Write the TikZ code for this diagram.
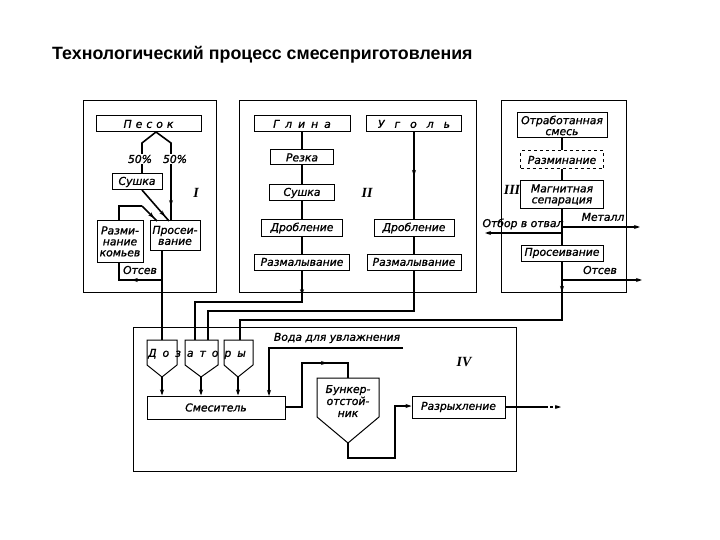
\documentclass[tikz,border=0pt]{standalone}
\usepackage{fontspec}
\setmainfont{Liberation Sans}
\newfontfamily\diagfont{DejaVu Sans}[FakeBold=1.2]
\newfontfamily\romfont{Liberation Serif}
\usetikzlibrary{arrows.meta,decorations.markings}
\newcommand{\ls}{\hspace{4pt}}
\newcommand{\lsw}{\hspace{6pt}}
\begin{document}
\begin{tikzpicture}[x=1pt,y=-1pt,
  panel/.style={draw, line width=0.9pt},
  box/.style={draw, line width=1pt, inner sep=1pt, align=center,
    font=\diagfont\itshape\fontsize{10.8}{11}\selectfont},
  lbl/.style={font=\diagfont\itshape\fontsize{10.8}{11.5}\selectfont, inner sep=1pt},
  flow/.style={line width=1.6pt},
  tip/.style={-{Stealth[length=6pt,width=4pt]}},
  midarrow/.style={postaction={decorate},decoration={markings,
    mark=at position #1 with {\arrow{Stealth[length=6pt,width=4pt]}}}},
  rom/.style={font=\romfont\itshape\bfseries\fontsize{14}{14}\selectfont}
]
\useasboundingbox (0,0) rectangle (720,540);
\fill[white] (0,0) rectangle (720,540);

% title
\node[anchor=west, inner sep=0, font=\bfseries\fontsize{17.8}{20}\selectfont] (title) at (52,55)
  {Технологический процесс смесеприготовления};

% ---------------- panels
\draw[panel] (83,100) rectangle (216,292);
\draw[panel] (239,100) rectangle (476,292);
\draw[panel] (501,100) rectangle (626,292);
\draw[panel] (133,327) rectangle (516,471);

% ---------------- panel I
\node[box, minimum width=105pt, minimum height=16pt] (pesok) at (148.5,124) {П\ls е\ls с\ls о\ls к};
\node[box, minimum width=50pt, minimum height=16pt] (sush1) at (137,182) {Сушка};
\node[box, minimum width=46pt, minimum height=41pt] (razm1) at (120,241.5) {Разми-\\нание\\комьев};
\node[box, minimum width=50pt, minimum height=29pt] (pros1) at (175,235.5) {Просеи-\\вание};
\node[rom] (r1) at (196,193) {I};

\coordinate (fork) at (156,132);
\draw[flow] (fork) -- (142,143) -- (sush1.north -| 142,0);
\draw[flow, midarrow=0.85] (fork) -- (171,143) -- (pros1.north -| 171,0);
\draw[flow, midarrow=0.85] (142,190) -- (169,221);
\draw[flow] (razm1.north -| 119,0) -- (119,206) -- (142,206);
\draw[flow, midarrow=0.8] (142,206) -- (157,221);
\node[lbl, fill=white] (p50a) at (140,159) {50\%};
\node[lbl, fill=white] (p50b) at (175,159) {50\%};
\coordinate (ots1) at (162,280);
\draw[flow, midarrow=0.5] (ots1) -- (119,280) -- (razm1.south -| 119,0);
\node[lbl] (lots1) at (140,270) {Отсев};

% ---------------- panel II
\node[box, minimum width=96pt, minimum height=16pt] (glina) at (302,124) {Г\lsw л\lsw и\lsw н\lsw а};
\node[box, minimum width=95pt, minimum height=16pt] (ugol) at (414,124) {У\lsw\ls г\lsw\ls о\lsw\ls л\lsw\ls ь};
\node[box, minimum width=63pt, minimum height=15pt] (rezka) at (302,157.5) {Резка};
\node[box, minimum width=65pt, minimum height=16pt] (sush2) at (302,193) {Сушка};
\node[box, minimum width=81pt, minimum height=16pt] (drob1) at (302,228) {Дробление};
\node[box, minimum width=95pt, minimum height=16pt] (razmal1) at (302,262) {Размалывание};
\node[box, minimum width=80pt, minimum height=16pt] (drob2) at (414,228) {Дробление};
\node[box, minimum width=94pt, minimum height=16pt] (razmal2) at (414,262) {Размалывание};
\node[rom] (r2) at (367,193) {II};

\draw[flow] (glina) -- (rezka);
\draw[flow] (rezka) -- (sush2);
\draw[flow] (sush2) -- (drob1);
\draw[flow] (drob1) -- (razmal1);
\draw[flow, midarrow=0.5] (ugol) -- (drob2);
\draw[flow] (drob2) -- (razmal2);

% ---------------- panel III
\node[box, minimum width=90pt, minimum height=25pt] (otrab) at (562,125.5) {Отработанная\\смесь};
\node[box, dashed, minimum width=83pt, minimum height=18pt] (razm3) at (562,160) {Разминание};
\node[box, minimum width=83pt, minimum height=28pt] (magn) at (562,195) {Магнитная\\сепарация};
\node[box, minimum width=82pt, minimum height=16pt] (pros3) at (562,253) {Просеивание};
\node[rom] (r3) at (512,190) {III};

\draw[flow] (otrab) -- (razm3);
\draw[flow] (razm3) -- (magn);
\draw[flow] (magn) -- (pros3);
\coordinate (met0) at (562,227);
\coordinate (met1) at (640,227);
\coordinate (otb0) at (562,233);
\coordinate (otb1) at (485,233);
\coordinate (ots30) at (562,280);
\coordinate (ots31) at (642,280);
\draw[flow, tip] (met0) -- (met1);
\draw[flow, tip] (otb0) -- (otb1);
\draw[flow, tip] (ots30) -- (ots31);
\node[lbl] (lmet) at (603,217) {Металл};
\node[lbl] (lotb) at (523,224) {Отбор в отвал};
\node[lbl] (lots3) at (600,270) {Отсев};

% ---------------- panel IV : dozators
\draw[line width=1pt] (147,340) -- (177,340) -- (177,365) -- (162,377) -- (147,365) -- cycle;
\draw[line width=1pt] (185,340) -- (218,340) -- (218,365) -- (201,377) -- (185,365) -- cycle;
\draw[line width=1pt] (224,340) -- (253,340) -- (253,365) -- (238,377) -- (224,365) -- cycle;
\coordinate (d1a) at (162,377);
\coordinate (d2a) at (201,377);
\coordinate (d3a) at (238,377);
\node[lbl] (ldoz) at (197,354) {Д\lsw о\lsw з\lsw а\lsw т\lsw о\lsw р\lsw ы};

\node[box, minimum width=138pt, minimum height=23pt] (mix) at (216,407.5) {Смеситель};
\draw[flow, tip] (d1a) -- (d1a |- mix.north);
\draw[flow, tip] (d2a) -- (d2a |- mix.north);
\draw[flow, tip] (d3a) -- (d3a |- mix.north);

% water
\coordinate (w0) at (403,348);
\draw[flow, tip] (w0) -- (269,348) -- (269,396);
\node[lbl] (lw) at (337,338) {Вода для увлажнения};

% bunker
\draw[line width=1pt] (317,378) -- (379,378) -- (379,417) -- (348,443) -- (317,417) -- cycle;
\coordinate (bt) at (348,378);
\coordinate (ba) at (348,443);
\node[lbl, align=center, font=\diagfont\itshape\fontsize{10.8}{12}\selectfont] (bunk) at (348,401) {Бункер-\\отстой-\\ник};
\draw[flow] (mix.east |- 0,407) -- (302,407) -- (302,363) -- (325,363);
\draw[flow, tip] (302,363) -- (327,363);
\draw[flow] (325,363) -- (348,363) -- (bt);

\node[box, minimum width=93pt, minimum height=22pt] (razr) at (458.5,407) {Разрыхление};
\draw[flow, tip] (ba) -- (348,458) -- (395,458) -- (395,406) -- (razr.west |- 0,406);
\coordinate (out0) at (545,407);
\coordinate (out1) at (561,407);
\draw[flow] (razr.east |- 0,407) -- (out0);
\draw[line width=1.2pt, dash pattern=on 3pt off 2pt, tip] (out0) -- (out1);
\node[rom] (r4) at (464,362) {IV};

% ---------------- feeds between panels
\draw[flow] (pros1.south -| 162,0) -- (162,340);
\draw[flow, midarrow=0.14] (razmal1) -- (302,302) -- (195,302) -- (195,340);
\draw[flow] (razmal2) -- (414,311) -- (208,311) -- (208,340);
\draw[flow] (pros3) -- (562,320) -- (240,320) -- (240,340);
\draw[flow, tip] (562,280) -- (562,292);
\end{tikzpicture}
\end{document}
